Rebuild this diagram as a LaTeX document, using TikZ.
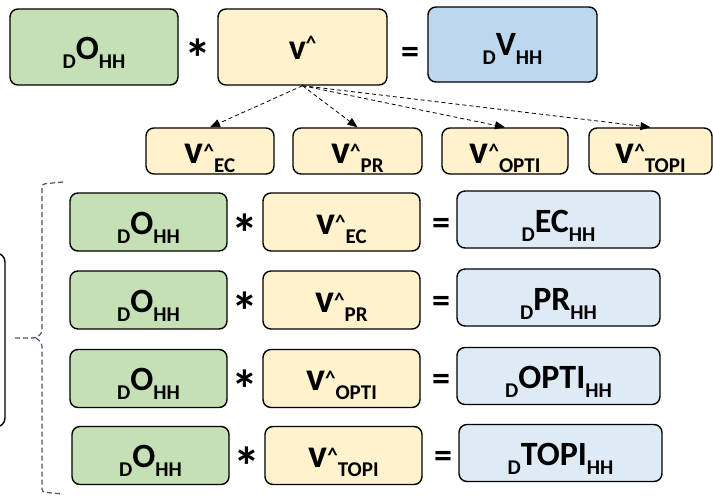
\documentclass[tikz,border=0pt]{standalone}
\usepackage{fontspec}
\setmainfont{Carlito}
\usepackage{xcolor}
\definecolor{termgreen}{HTML}{C5E0B4}
\definecolor{termyellow}{HTML}{FFF2CC}
\definecolor{termblue}{HTML}{BDD7EE}
\definecolor{partblue}{HTML}{DEEBF7}
\definecolor{slate}{HTML}{44546A}
\usetikzlibrary{arrows.meta}

\newcommand{\bigsz}{\fontsize{34}{34}\selectfont}
\newcommand{\subsz}{\fontsize{21}{21}\selectfont}
% _D X _HH labels
\newcommand{\dhh}[1]{\raisebox{-9pt}{\subsz D}{\bigsz #1}\raisebox{-9pt}{\subsz HH}}
% v^ with a lowered index
\newcommand{\vhat}[1]{{\fontsize{40}{40}\selectfont v}\raisebox{5pt}{\subsz\textasciicircum}\raisebox{-9pt}{\subsz #1}}

\begin{document}
\begin{tikzpicture}[x=1pt,y=-1pt,font=\bfseries,
    term/.style={draw=black, line width=1.4pt, rounded corners=8pt, inner sep=0pt},
    op/.style={anchor=base, inner sep=0pt},
    flow/.style={line width=0.8pt, dash pattern=on 4pt off 3pt, -{Triangle[length=10pt,width=8pt]}},
    bracket/.style={slate, line width=1.2pt, dash pattern=on 5pt off 3pt, rounded corners=3pt}]
    \useasboundingbox (0,0) rectangle (713,496);

    % Top equation
    \node[term, fill=termgreen, minimum width=168pt, text height=50pt, text depth=26pt] (oTop) at (94,47) {\dhh{O}};
    \node[term, fill=termyellow, minimum width=169pt, text height=50pt, text depth=26pt] (vTop) at (302.5,47)
        {{\fontsize{36}{36}\selectfont v}\raisebox{9pt}{\subsz\textasciicircum}};
    \node[term, fill=termblue, minimum width=169pt, text height=48pt, text depth=27pt] (vhh) at (512.5,44.5) {\dhh{V}};
    \node[op, font=\bfseries\fontsize{54}{54}\selectfont] (mulTop) at (198,77) {*};
    \node[op, font=\bfseries\fontsize{36}{36}\selectfont] (eqTop) at (410,63) {=};

    % The four parts of v^
    \foreach \nm/\xc/\w in {EC/210/128, PR/357.5/129, OPTI/505/126, TOPI/650.5/123} {
        \node[term, fill=termyellow, minimum width=\w pt, text height=35pt, text depth=11pt] (v\nm) at (\xc,151) {\vhat{\nm}};
        \draw[flow] (vTop.south) -- (v\nm.north);
    }

    % One product per part
    \foreach \i/\nm/\yc/\dx in {1/EC/222/0, 2/PR/300/0, 3/OPTI/378.5/0, 4/TOPI/455.5/2} {
        \node[term, fill=termgreen, minimum width=157pt, text height=41pt, text depth=17pt] (o\i) at (148.5+\dx,\yc) {\dhh{O}};
        \node[term, fill=termyellow, minimum width=157pt, text height=41pt, text depth=17pt] (vp\i) at (341.5+\dx,\yc) {\vhat{\nm}};
        \node[term, fill=partblue, minimum width=203pt, text height=41pt, text depth=16pt] (part\i) at (558.5+\dx,\yc-2.5) {\dhh{\nm}};
        \node[op, font=\bfseries\fontsize{54}{54}\selectfont] (mul\i) at (245+\dx,\yc+30) {*};
        \node[op, font=\bfseries\fontsize{36}{36}\selectfont] (eq\i) at (441+\dx,\yc+12) {=};
    }

    % Grouping bracket
    \draw[bracket] (63,182) -- (42,184) -- (42,333) -- (36,338) -- (12,338);
    \draw[bracket] (36,338) -- (42,343) -- (42,492) -- (63,494);

    % Box cut off at the left edge
    \draw[line width=1.4pt, rounded corners=9pt, fill=white] (-30,253) rectangle (5,427);
\end{tikzpicture}
\end{document}
